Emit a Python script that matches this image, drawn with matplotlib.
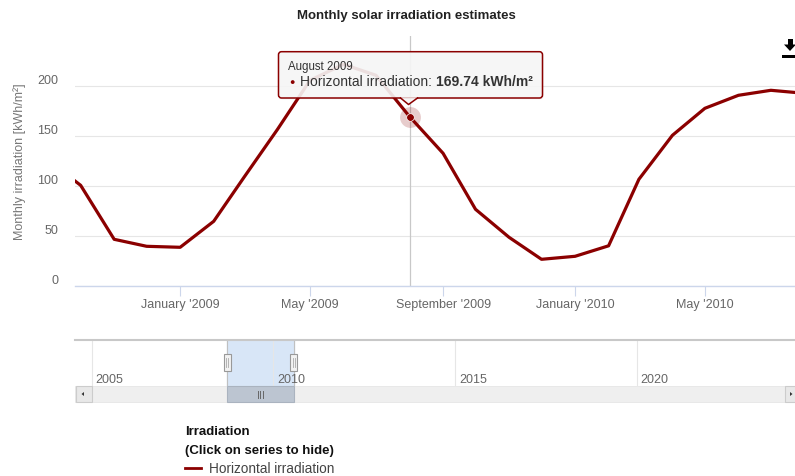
import matplotlib
matplotlib.use("Agg")
import matplotlib.pyplot as plt
import matplotlib.dates as mdates
from matplotlib.patches import Rectangle, Polygon, FancyBboxPatch
from matplotlib.lines import Line2D
from matplotlib.transforms import Affine2D, ScaledTranslation
import datetime as dt

plt.rcParams['font.family'] = ['Liberation Sans', 'DejaVu Sans']

# ---------------- data ----------------
months = ["2008-09", "2008-10", "2008-11", "2008-12",
          "2009-01", "2009-02", "2009-03", "2009-04", "2009-05", "2009-06",
          "2009-07", "2009-08", "2009-09", "2009-10", "2009-11", "2009-12",
          "2010-01", "2010-02", "2010-03", "2010-04", "2010-05", "2010-06",
          "2010-07", "2010-08"]
irradiation = [126, 101, 47, 40,
               39, 65, 109, 157, 206, 222,
               211, 169.74, 133, 77, 49, 27,
               30, 40.5, 107, 151, 178, 191,
               196, 193]
x_tick_dates = ["2009-01", "2009-05", "2009-09", "2010-01", "2010-05"]
x_tick_labels = ["January '2009", "May '2009", "September '2009", "January '2010", "May '2010"]
y_ticks = [0, 50, 100, 150, 200]
nav_years = [2005, 2010, 2015, 2020]
hover_month = "2009-08"
hover_label = "August 2009"
series_name = "Horizontal irradiation"
title = "Monthly solar irradiation estimates"
y_label = "Monthly irradiation [kWh/m²]"

# ---------------- setup ----------------
W, H = 795, 477
fig = plt.figure(figsize=(W / 100, H / 100), dpi=100)
fig.patch.set_facecolor("white")
px = Affine2D().scale(1 / W, -1 / H).translate(0, 1) + fig.transFigure


def rect(x0, y0, x1, y1):
    return [x0 / W, 1 - y1 / H, (x1 - x0) / W, (y1 - y0) / H]


def to_date(s):
    y, m = s.split("-")
    return dt.datetime(int(y), int(m), 1)


LINE = "#8b0000"
dates = [to_date(m) for m in months]

# ---------------- main chart ----------------
ax = fig.add_axes(rect(75, 37.3, 795, 287.3))
ax.plot(dates, irradiation, color=LINE, lw=2.3, solid_joinstyle="round", zorder=3)
ax.set_xlim(dt.datetime(2008, 9, 25, 19), dt.datetime(2010, 7, 23, 7))
ax.set_ylim(0, 250)

for s in ["top", "right", "left"]:
    ax.spines[s].set_visible(False)
ax.spines["bottom"].set_color("#ccd6eb")
ax.spines["bottom"].set_linewidth(1.0)

ax.set_xticks([to_date(d) for d in x_tick_dates])
ax.set_xticklabels(x_tick_labels)
ax.tick_params(axis="x", length=7.2, width=0.8, color="#ccd6eb", pad=1,
               labelsize=9, labelcolor="#666666")
ax.set_yticks(y_ticks)
ax.set_yticklabels([str(v) for v in y_ticks])
ax.tick_params(axis="y", length=0, pad=12, labelsize=9, labelcolor="#666666")
off = ScaledTranslation(0, 7.5 / 100, fig.dpi_scale_trans)
for lab in ax.get_yticklabels():
    lab.set_transform(lab.get_transform() + off)
ax.grid(axis="y", color="#e6e6e6", lw=0.8)
ax.set_axisbelow(True)

# crosshair + hover marker
hi = months.index(hover_month)
hx, hy = dates[hi], irradiation[hi]
ax.axvline(hx, color="#c8c8c8", lw=0.9, zorder=2)
ax.plot([hx], [hy], "o", ms=15, color=LINE, alpha=0.2, mec="none", zorder=4)
ax.plot([hx], [hy], "o", ms=5.5, color=LINE, mec="white", mew=0.5, zorder=5)

# y label and title
fig.text(20, 162, y_label, transform=px, rotation=90, ha="center", va="center",
         fontsize=9, color="#777777")
fig.text(406, 15.5, title, transform=px, ha="center", va="center",
         fontsize=9.5, fontweight="bold", color="#222222")

# ---------------- tooltip ----------------
fig.canvas.draw()
hpx = ax.transData.transform((mdates.date2num(hx), hy))
tip_x = hpx[0]
TBG = (0.97, 0.97, 0.97, 0.9)
# soft shadow
fig.add_artist(FancyBboxPatch((279.5, 54), 264, 46.3, boxstyle="round,pad=0,rounding_size=3",
                              transform=px, facecolor=(0, 0, 0, 0.06), edgecolor="none", zorder=9))
box = FancyBboxPatch((278.5, 52.7), 264, 46.3, boxstyle="round,pad=0,rounding_size=3",
                     transform=px, facecolor=TBG, edgecolor=LINE, lw=1.1, zorder=10)
fig.add_artist(box)
ptr = Polygon([(tip_x - 9, 98.2), (tip_x - 1, 105.5), (tip_x + 8, 98.2)], closed=True,
              transform=px, facecolor=TBG, edgecolor="none", zorder=11)
fig.add_artist(ptr)
fig.add_artist(Line2D([tip_x - 9, tip_x - 1, tip_x + 8], [99, 105.5, 99], transform=px,
                      color=LINE, lw=1.1, zorder=12))
fig.text(287.5, 67, hover_label, transform=px, ha="left", va="center",
         fontsize=8.3, color="#333333", zorder=13)
fig.text(289.5, 82.5, "●", transform=px, ha="left", va="center",
         fontsize=6.5, color=LINE, zorder=13)
fig.text(299.5, 82.5, series_name + ":", transform=px, ha="left", va="center",
         fontsize=10, color="#333333", zorder=13)
fig.text(435.5, 82.5, f"{hy:.2f} kWh/m²", transform=px, ha="left", va="center",
         fontsize=10, fontweight="bold", color="#333333", zorder=13)

# download icon
fig.add_artist(Rectangle((788, 40), 4.5, 6, transform=px, facecolor="black", edgecolor="none"))
fig.add_artist(Polygon([(784, 45.5), (796, 45.5), (790, 52)], closed=True, transform=px,
                       facecolor="black", edgecolor="none"))
fig.add_artist(Rectangle((781.5, 55.5), 14, 3.2, transform=px, facecolor="black", edgecolor="none"))

# ---------------- navigator ----------------
nav = fig.add_axes(rect(75, 341, 795, 386.7))
nav.set_xlim(2004.54, 2024.36)
nav.set_ylim(0, 1)
for s in ["bottom", "right", "left"]:
    nav.spines[s].set_visible(False)
nav.spines["top"].set_color("#c8c8c8")
nav.spines["top"].set_linewidth(1.5)
nav.set_yticks([])
nav.set_xticks(nav_years)
nav.set_xticklabels([])
nav.tick_params(axis="x", length=0)
nav.grid(axis="x", color="#e6e6e6", lw=0.8)
nav.set_axisbelow(True)
for yr in nav_years:
    nav.annotate(str(yr), (yr, 0), xytext=(4, 7), textcoords="offset pixels",
                 ha="left", va="center", fontsize=9, color="#666666")

x0, x1 = ax.get_xlim()
def dec_year(num):
    d = mdates.num2date(num)
    return d.year + (d.timetuple().tm_yday - 1) / 365.25
s0, s1 = dec_year(x0), dec_year(x1)
nav.axvspan(s0, s1, color="#d8e6f7", zorder=0)
nav.axvline(s0, color="#c0c0c0", lw=0.8)
nav.axvline(s1, color="#c0c0c0", lw=0.8)

fig.canvas.draw()
sp0 = nav.transData.transform((s0, 0))[0]
sp1 = nav.transData.transform((s1, 0))[0]

# scrollbar
fig.add_artist(Rectangle((75, 386.7), 720, 16.6, transform=px, facecolor="#efefef",
                         edgecolor="#e6e6e6", lw=0.6))
fig.add_artist(Rectangle((75.5, 386.7), 16, 16.6, transform=px, facecolor="#e8e8e8",
                         edgecolor="#cccccc", lw=0.8))
fig.add_artist(Polygon([(81.5, 395), (84, 393), (84, 397)], closed=True, transform=px,
                       facecolor="#333333", edgecolor="none"))
fig.add_artist(Rectangle((785, 386.7), 12, 16.6, transform=px, facecolor="#e8e8e8",
                         edgecolor="#cccccc", lw=0.8))
fig.add_artist(Polygon([(792.5, 395), (790, 393), (790, 397)], closed=True, transform=px,
                       facecolor="#333333", edgecolor="none"))
fig.add_artist(Rectangle((sp0, 386.7), sp1 - sp0, 16.6, transform=px, facecolor="#bcc5d1",
                         edgecolor="#aab3bf", lw=0.8))
cx = (sp0 + sp1) / 2
for dxx in (-2.5, 0, 2.5):
    fig.add_artist(Line2D([cx + dxx, cx + dxx], [392, 398.5], transform=px,
                          color="#666666", lw=0.7))
# handles
for hxp in (sp0, sp1):
    fig.add_artist(Rectangle((hxp - 3.5, 355), 7, 17, transform=px, facecolor="#f2f2f2",
                             edgecolor="#999999", lw=0.8, zorder=5))
    for dxx in (-1, 1):
        fig.add_artist(Line2D([hxp + dxx, hxp + dxx], [359, 368], transform=px,
                              color="#aaaaaa", lw=0.6, zorder=6))

# ---------------- legend ----------------
fig.text(185, 431.7, "Irradiation", transform=px, ha="left", va="center",
         fontsize=9.5, fontweight="bold", color="#111111")
fig.text(185, 451, "(Click on series to hide)", transform=px, ha="left", va="center",
         fontsize=9.5, fontweight="bold", color="#111111")
fig.add_artist(Line2D([185, 201], [469.3, 469.3], transform=px, color=LINE, lw=2))
fig.text(209, 469.5, series_name, transform=px, ha="left", va="center",
         fontsize=9.8, color="#444444")

fig.savefig("out.png", dpi=100, facecolor="white")
